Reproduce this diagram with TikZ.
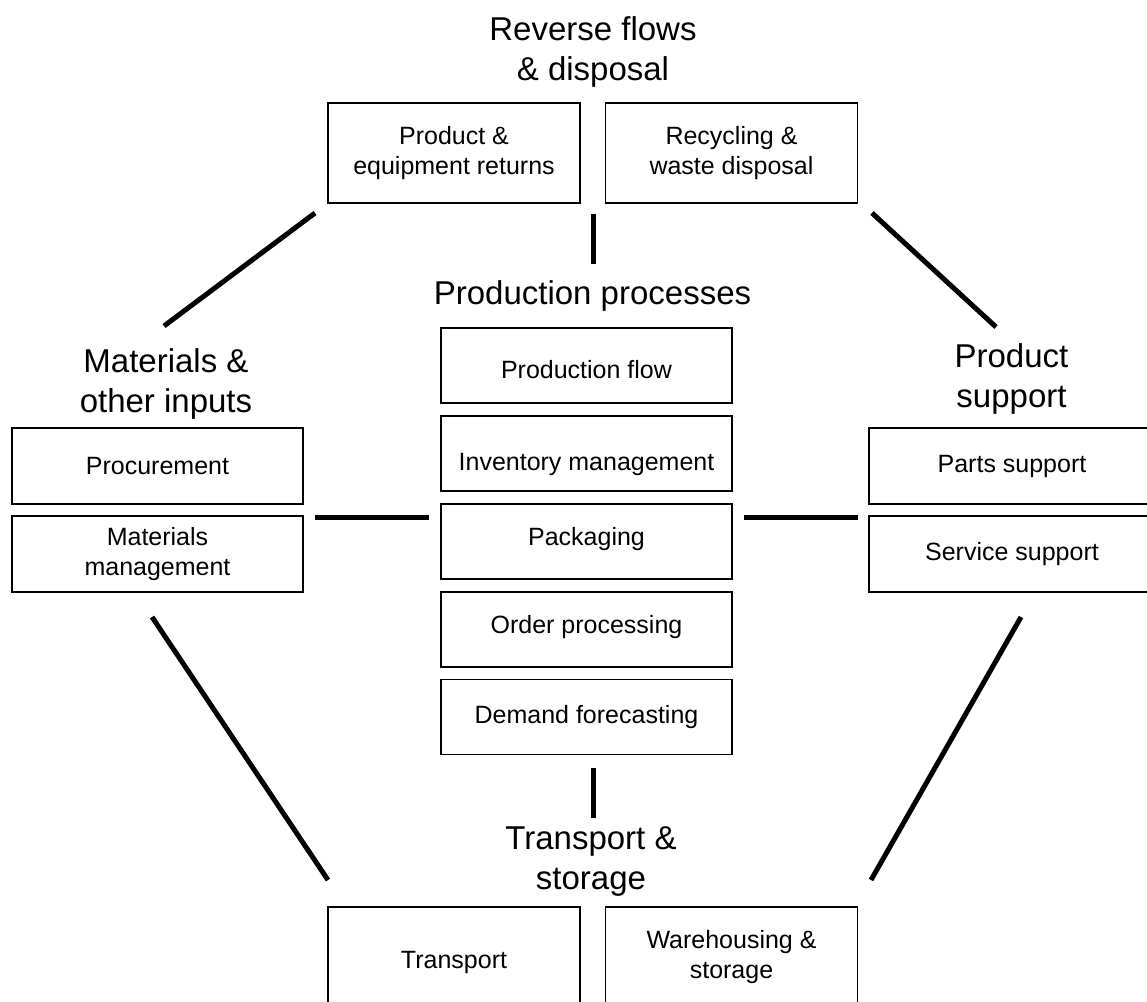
\documentclass[tikz,border=0pt]{standalone}
\usepackage{fontspec}
\setmainfont{Liberation Sans}
\usepackage{tikz}
\usetikzlibrary{positioning}
\usetikzlibrary{calc}
\tikzstyle{box}=[draw,line width=0.85pt,inner sep=0pt,align=center,font=\fontsize{12.5}{14.75}\selectfont]
\tikzstyle{bigbox}=[box,minimum width=126pt,minimum height=50pt]
\tikzstyle{sidebox}=[box,minimum width=145.5pt,minimum height=38pt]
\tikzstyle{midbox}=[box,minimum width=145.5pt,minimum height=37.5pt,text depth=0pt]
\tikzstyle{title}=[inner sep=0pt,align=center,font=\fontsize{16.5}{20.25}\selectfont]
\tikzstyle{link}=[line width=2.5pt]

\begin{document}
\begin{tikzpicture}[x=0.5pt, y=-0.5pt]
\useasboundingbox (0,0) rectangle (1147,1002);
\clip (0,0) rectangle (1147,1002);

%Reverse flows
\node[title] (revt) at (593,52) {Reverse flows\\ \& disposal};
\node[bigbox] (ret) at (454,153) {Product \&\\equipment returns};
\node[bigbox] (rec) at (731.5,153) {Recycling \&\\waste disposal};

%Production processes
\node[title] (prodt) at (592.5,295.5) {Production processes};
\foreach \y/\h/\name/\label in {365.5/12.5/pf/Production flow, 453.5/16.5/inv/Inventory management, 541.5/3.5/pack/Packaging, 629.5/3.5/ord/Order processing, 717/6/dem/Demand forecasting}
    \node[midbox, text height=\h pt] (\name) at (586.5,\y) {\label};

%Materials
\node[title] (matt) at (166,384) {Materials \&\\other inputs};
\node[sidebox] (proc) at (157.5,466) {Procurement};
\node[sidebox] (matm) at (157.5,554) {Materials\\management};

%Product support
\node[title] (supt) at (1011.5,379) {Product\\support};
\node[sidebox, minimum width=143pt] (parts) at (1012,466) {Parts support};
\node[sidebox, minimum width=143pt] (serv) at (1012,554) {Service support};

%Transport
\node[title] (trat) at (591,861.5) {Transport \&\\storage};
\node[bigbox, text depth=0pt, text height=11pt] (trans) at (454,957) {Transport};
\node[bigbox] (wh) at (731.5,957) {Warehousing \&\\storage};

%links
\foreach \name/\x/\y in {a1/315/213, a2/164/326, b1/593/214, b2/593/264, c1/872/213, c2/996/327, d1/315/517, d2/429/517, e1/744/517, e2/858/517, f1/152/617, f2/328/880, g1/593/768, g2/593/818, h1/1021/617, h2/871/880}
    \coordinate (\name) at (\x,\y);
\foreach \source/\dest in {a1/a2, b1/b2, c1/c2, d1/d2, e1/e2, f1/f2, g1/g2, h1/h2}
    \draw[link] (\source) -- (\dest);

\end{tikzpicture}
\end{document}
